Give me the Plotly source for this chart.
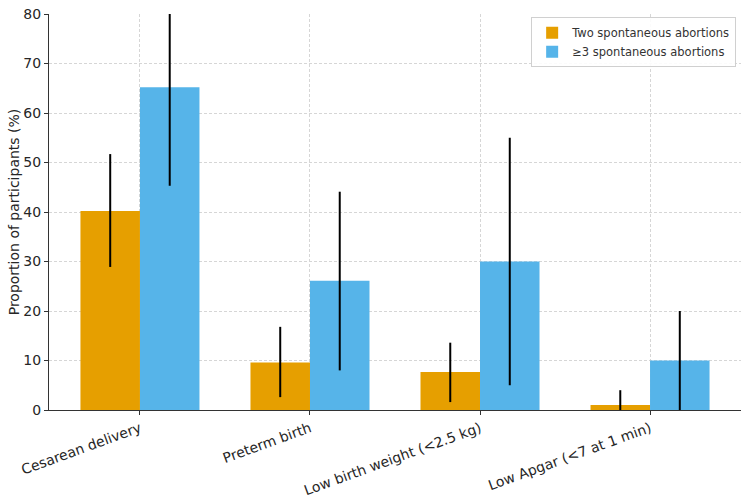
import plotly.graph_objects as go

categories = ["Cesarean delivery", "Preterm birth", "Low birth weight (<2.5 kg)", "Low Apgar (<7 at 1 min)"]
two_vals = [40.2, 9.6, 7.7, 1.0]
two_lo = [28.9, 2.6, 1.6, 0.0]
two_hi = [51.7, 16.8, 13.6, 4.0]
three_vals = [65.2, 26.1, 30.0, 10.0]
three_lo = [45.3, 8.0, 5.0, 0.0]
three_hi = [85.0, 44.1, 55.0, 20.0]
yticks = [0, 10, 20, 30, 40, 50, 60, 70, 80]

x = list(range(len(categories)))
FONT = "DejaVu Sans"

def err(vals, lo, hi):
    return dict(type="data", symmetric=False,
                array=[h - v for v, h in zip(vals, hi)],
                arrayminus=[v - l for v, l in zip(vals, lo)],
                color="black", thickness=2, width=0)

fig = go.Figure()
fig.add_trace(go.Bar(x=x, y=two_vals, name="Two spontaneous abortions",
                     marker=dict(color="#E69F00", line=dict(width=0)),
                     error_y=err(two_vals, two_lo, two_hi)))
fig.add_trace(go.Bar(x=x, y=three_vals, name="≥3 spontaneous abortions",
                     marker=dict(color="#56B4E9", line=dict(width=0)),
                     error_y=err(three_vals, three_lo, three_hi)))

fig.update_layout(
    width=750, height=501,
    margin=dict(l=49, r=9, t=14, b=91),
    paper_bgcolor="white", plot_bgcolor="white",
    barmode="group", bargap=0.3, bargroupgap=0,
    font=dict(family=FONT, size=14, color="#262626"),
    legend=dict(x=0.993, y=0.992, xanchor="right", yanchor="top",
                bgcolor="rgba(255,255,255,0.9)", bordercolor="#d0d0d0", borderwidth=1,
                font=dict(size=11.5, color="#333333"), itemwidth=30),
    xaxis=dict(range=[-0.535, 3.535], tickmode="array", tickvals=x, ticktext=categories,
               tickangle=-20, automargin=False,
               showgrid=True, gridcolor="#d6d6d6", griddash="3px,2px", gridwidth=1,
               showline=True, linecolor="#333333", linewidth=1.2,
               ticks="outside", ticklen=4, tickcolor="#333333", zeroline=False),
    yaxis=dict(range=[0, 80], tickmode="array", tickvals=yticks, automargin=False,
               title=dict(text="Proportion of participants (%)", font=dict(size=14), standoff=0),
               showgrid=True, gridcolor="#d6d6d6", griddash="3px,2px", gridwidth=1,
               showline=True, linecolor="#333333", linewidth=1.2,
               ticks="outside", ticklen=4, tickcolor="#333333", zeroline=False),
)

fig.write_html("out.html")
